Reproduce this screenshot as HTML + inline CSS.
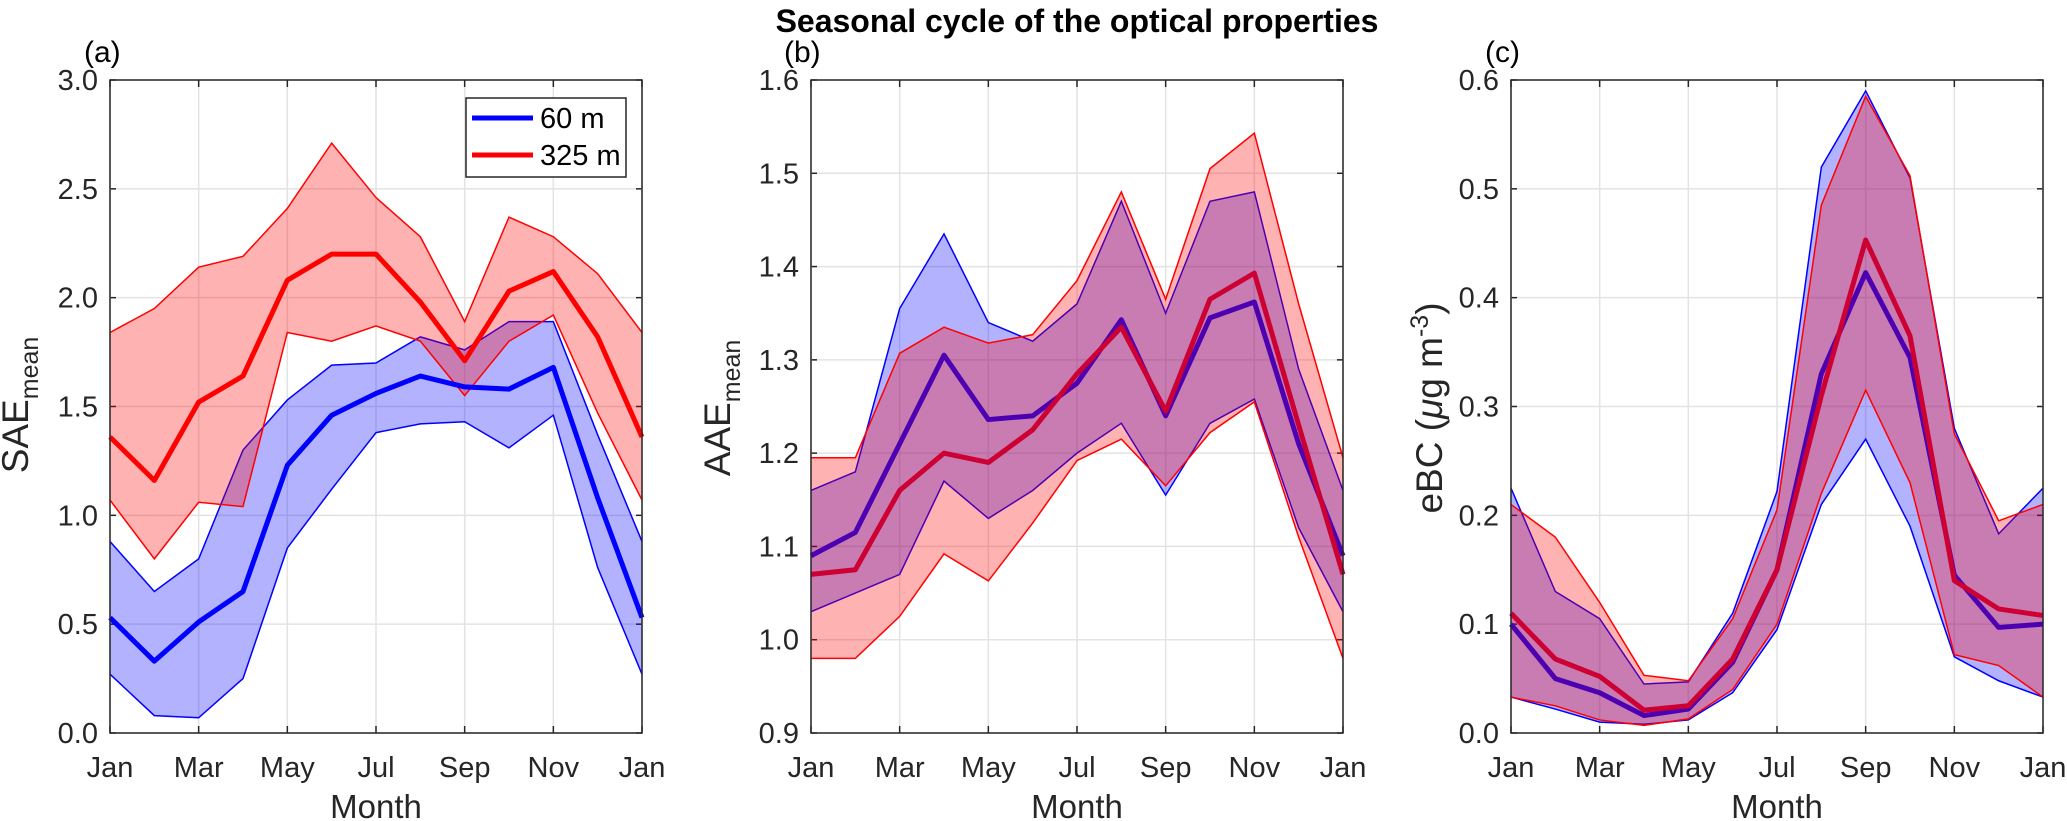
<!DOCTYPE html>
<html><head><meta charset="utf-8">
<style>
html,body{margin:0;padding:0;background:#fff;}
svg{display:block;font-family:"Liberation Sans",Arial,sans-serif;}
</style></head>
<body>
<svg id="fig" width="2067" height="821" viewBox="0 0 2067 821" xmlns="http://www.w3.org/2000/svg">
<text x="1077" y="32" text-anchor="middle" font-size="32" font-weight="bold" fill="#000">Seasonal cycle of the optical properties</text>
</svg>
<script>
// Month positions: Jan..Dec, Jan
const months = [0,1,2,3,4,5,6,7,8,9,10,11,12];
const monthLabels = ["Jan","","Mar","","May","","Jul","","Sep","","Nov","","Jan"];

// Panel (a) SAE
const saeBlueMean  = [0.53,0.33,0.51,0.65,1.23,1.46,1.56,1.64,1.59,1.58,1.68,1.08,0.53];
const saeBlueUpper = [0.88,0.65,0.80,1.30,1.53,1.69,1.70,1.82,1.76,1.89,1.89,1.37,0.88];
const saeBlueLower = [0.27,0.08,0.07,0.25,0.85,1.12,1.38,1.42,1.43,1.31,1.46,0.76,0.27];
const saeRedMean   = [1.36,1.16,1.52,1.64,2.08,2.20,2.20,1.98,1.71,2.03,2.12,1.82,1.36];
const saeRedUpper  = [1.84,1.95,2.14,2.19,2.41,2.71,2.46,2.28,1.89,2.37,2.28,2.11,1.84];
const saeRedLower  = [1.07,0.80,1.06,1.04,1.84,1.80,1.87,1.80,1.55,1.80,1.92,1.47,1.07];
const saeTicks = ["0.0","0.5","1.0","1.5","2.0","2.5","3.0"];

// Panel (b) AAE
const aaeBlueMean  = [1.09,1.115,1.21,1.305,1.236,1.24,1.275,1.343,1.24,1.345,1.362,1.21,1.09];
const aaeBlueUpper = [1.16,1.18,1.355,1.435,1.34,1.32,1.36,1.47,1.35,1.47,1.48,1.29,1.16];
const aaeBlueLower = [1.03,1.05,1.07,1.17,1.13,1.16,1.20,1.232,1.155,1.232,1.258,1.12,1.03];
const aaeRedMean   = [1.07,1.075,1.16,1.20,1.19,1.225,1.285,1.335,1.245,1.365,1.393,1.23,1.07];
const aaeRedUpper  = [1.195,1.195,1.307,1.335,1.318,1.327,1.385,1.48,1.365,1.505,1.543,1.36,1.195];
const aaeRedLower  = [0.98,0.98,1.025,1.092,1.063,1.125,1.192,1.215,1.165,1.222,1.255,1.11,0.98];
const aaeTicks = ["0.9","1.0","1.1","1.2","1.3","1.4","1.5","1.6"];

// Panel (c) eBC
const bcBlueMean  = [0.10,0.05,0.037,0.016,0.022,0.065,0.15,0.33,0.423,0.345,0.145,0.097,0.10];
const bcBlueUpper = [0.225,0.13,0.105,0.045,0.047,0.11,0.222,0.52,0.59,0.51,0.28,0.183,0.225];
const bcBlueLower = [0.033,0.022,0.01,0.008,0.012,0.037,0.095,0.21,0.27,0.19,0.07,0.048,0.033];
const bcRedMean   = [0.11,0.068,0.052,0.021,0.025,0.068,0.15,0.31,0.453,0.365,0.14,0.114,0.108];
const bcRedUpper  = [0.21,0.18,0.12,0.053,0.048,0.105,0.205,0.485,0.585,0.512,0.275,0.195,0.21];
const bcRedLower  = [0.033,0.025,0.012,0.007,0.013,0.04,0.10,0.22,0.315,0.23,0.072,0.062,0.033];
const bcTicks = ["0.0","0.1","0.2","0.3","0.4","0.5","0.6"];

const NS = "http://www.w3.org/2000/svg";
const svg = document.getElementById("fig");
function mk(tag, attrs, parent){
  const e = document.createElementNS(NS, tag);
  for (const k in attrs) e.setAttribute(k, attrs[k]);
  (parent||svg).appendChild(e);
  return e;
}

function panel(cfg){
  const L=cfg.left, R=cfg.left+532, T=80, B=733;
  const g = mk("g",{});
  
  
  const xs = m => L + (R-L)*m/12;
  const ys = v => B - (B-T)*(v-cfg.ymin)/(cfg.ymax-cfg.ymin);
  cfg.ticks.forEach((t,i)=>{
    const v = parseFloat(t); const y = ys(v);
    const gl = mk("line",{x1:L,x2:R,y1:y,y2:y,stroke:"#e3e3e3","stroke-width":1.5},g);
    
    
    const tl = mk("text",{x:L-12,y:y+10,"text-anchor":"end","font-size":29,fill:"#262626"},g);
    tl.textContent = t;
    
    
    mk("line",{x1:L,x2:L+6,y1:y,y2:y,stroke:"#262626","stroke-width":1.5},g);
    mk("line",{x1:R,x2:R-6,y1:y,y2:y,stroke:"#262626","stroke-width":1.5},g);
  });
  months.forEach((m,i)=>{
    if(!monthLabels[i]) return;
    const x = xs(m);
    const gl = mk("line",{x1:x,x2:x,y1:T,y2:B,stroke:"#e3e3e3","stroke-width":1.5},g);
    
    
    mk("line",{x1:x,x2:x,y1:B,y2:B-7,stroke:"#262626","stroke-width":1.5},g);
    mk("line",{x1:x,x2:x,y1:T,y2:T+7,stroke:"#262626","stroke-width":1.5},g);
    const tl = mk("text",{x:x,y:777,"text-anchor":"middle","font-size":29,fill:"#262626"},g);
    tl.textContent = monthLabels[i];
    
    
  });
  function band(up, lo, fill, edge, nm){
    let pts = months.map((m,i)=>xs(m)+","+ys(up[i]));
    for(let i=months.length-1;i>=0;i--) pts.push(xs(months[i])+","+ys(lo[i]));
    const p = mk("polygon",{points:pts.join(" "),fill:fill,"fill-opacity":0.3,stroke:"none"},g);
    
    
    [up,lo].forEach(arr=>{
      const l = mk("polyline",{points:months.map((m,i)=>xs(m)+","+ys(arr[i])).join(" "),fill:"none",stroke:edge,"stroke-width":1.5},g);
      
      
    });
  }
  function line(arr, col, nm){
    const l = mk("polyline",{points:months.map((m,i)=>xs(m)+","+ys(arr[i])).join(" "),fill:"none",stroke:col,"stroke-width":5,"stroke-linejoin":"round"},g);
    
    
  }
  band(cfg.bu, cfg.bl, "#0000ff", "#0000ff", "60m");
  band(cfg.ru, cfg.rl, "#ff0000", "#ff0000", "325m");
  if(cfg.over){
    line(cfg.bm, "#4c00b2", "60m");
    line(cfg.rm, "#cc0033", "325m");
  } else {
    line(cfg.bm, "#0000ff", "60m");
    line(cfg.rm, "#ff0000", "325m");
  }
  const box = mk("rect",{x:L,y:T,width:R-L,height:B-T,fill:"none",stroke:"#262626","stroke-width":1.5},g);
  
  
  const xl = mk("text",{x:(L+R)/2,y:818,"text-anchor":"middle","font-size":33,fill:"#262626"},g);
  xl.textContent = "Month";
  
  
  const pl = mk("text",{x:cfg.lblx,y:62,"font-size":30,fill:"#000"},g);
  pl.textContent = cfg.label;
  
  
  return g;
}

panel({name:"panel-a-sae",left:110,ymin:0,ymax:3,ticks:saeTicks,bm:saeBlueMean,bu:saeBlueUpper,bl:saeBlueLower,rm:saeRedMean,ru:saeRedUpper,rl:saeRedLower,over:false,label:"(a)",lblx:84});
panel({name:"panel-b-aae",left:811,ymin:0.9,ymax:1.6,ticks:aaeTicks,bm:aaeBlueMean,bu:aaeBlueUpper,bl:aaeBlueLower,rm:aaeRedMean,ru:aaeRedUpper,rl:aaeRedLower,over:true,label:"(b)",lblx:784});
panel({name:"panel-c-ebc",left:1511,ymin:0,ymax:0.6,ticks:bcTicks,bm:bcBlueMean,bu:bcBlueUpper,bl:bcBlueLower,rm:bcRedMean,ru:bcRedUpper,rl:bcRedLower,over:true,label:"(c)",lblx:1485});

function ytitle(x,y,html,nm){
  const t = mk("text",{transform:"translate("+x+","+y+") rotate(-90)","text-anchor":"middle","font-size":37,fill:"#262626"});
  t.innerHTML = html;
  
  
}
ytitle(28,405,'SAE<tspan font-size="25" dy="10">mean</tspan>','y-axis-title-sae');
ytitle(730,408,'AAE<tspan font-size="25" dy="10">mean</tspan>','y-axis-title-aae');
ytitle(1442,408,'eBC (<tspan font-style="italic">μ</tspan>g m<tspan font-size="25" dy="-14">-3</tspan><tspan dy="14">)</tspan>','y-axis-title-ebc');

const lg = mk("g",{});


mk("rect",{x:466,y:98,width:160,height:79,fill:"#fff",stroke:"#262626","stroke-width":1.5},lg);
const e1 = mk("line",{x1:472,x2:533,y1:118,y2:118,stroke:"#0000ff","stroke-width":5},lg);


const t1 = mk("text",{x:540,y:128,"font-size":29,fill:"#000"},lg); t1.textContent="60 m";


const e2 = mk("line",{x1:472,x2:533,y1:155,y2:155,stroke:"#ff0000","stroke-width":5},lg);


const t2 = mk("text",{x:540,y:165,"font-size":29,fill:"#000"},lg); t2.textContent="325 m";


</script>
</body></html>
